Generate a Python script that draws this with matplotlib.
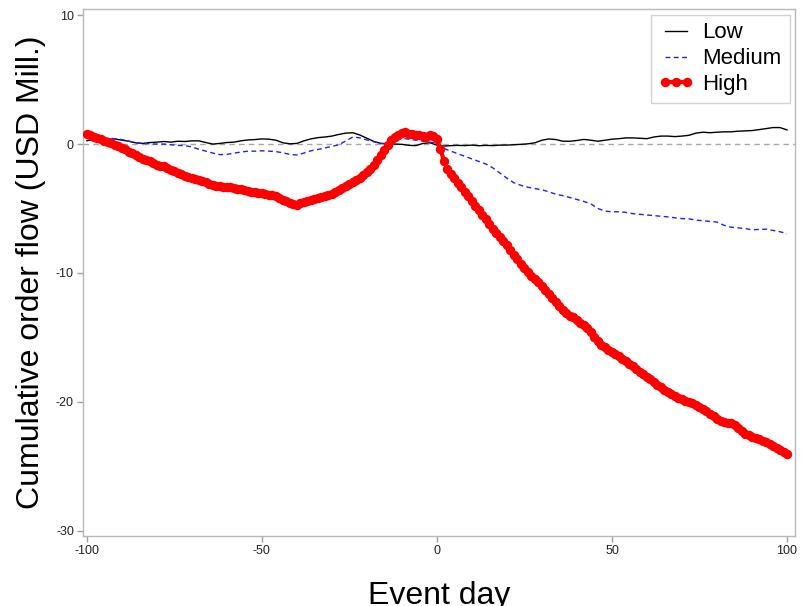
import matplotlib
matplotlib.use("Agg")
import matplotlib.pyplot as plt
import numpy as np

plt.rcParams["font.family"] = ["Liberation Sans", "DejaVu Sans"]
plt.rcParams["axes.unicode_minus"] = False

# Event window, one observation per day for the high group
days_high = list(range(-100, 101))
high = [
    0.78, 0.70, 0.55, 0.45, 0.38, 0.25, 0.15, 0.05, -0.05, -0.18,
    -0.30, -0.42, -0.58, -0.70, -0.82, -0.98, -1.12, -1.22, -1.35, -1.50,
    -1.62, -1.68, -1.72, -1.85, -1.98, -2.10, -2.22, -2.35, -2.45, -2.52,
    -2.60, -2.72, -2.80, -2.88, -2.98, -3.10, -3.18, -3.22, -3.28, -3.32,
    -3.30, -3.35, -3.42, -3.48, -3.50, -3.55, -3.62, -3.70, -3.75, -3.78,
    -3.80, -3.85, -3.92, -3.98, -4.05, -4.15, -4.30, -4.45, -4.60, -4.68,
    -4.72, -4.60, -4.50, -4.42, -4.35, -4.28, -4.20, -4.12, -4.05, -3.98,
    -3.88, -3.72, -3.55, -3.42, -3.28, -3.10, -2.95, -2.80, -2.62, -2.42,
    -2.20, -1.95, -1.62, -1.25, -0.85, -0.45, -0.05, 0.30, 0.55, 0.70,
    0.85, 0.90, 0.80, 0.75, 0.72, 0.70, 0.62, 0.55, 0.68, 0.62,
    0.40, -0.40, -1.30, -1.90, -2.35, -2.65, -3.00, -3.35, -3.70, -4.05,
    -4.40, -4.80, -5.15, -5.50, -5.85, -6.20, -6.55, -6.90, -7.20, -7.50,
    -7.85, -8.25, -8.60, -8.95, -9.30, -9.65, -9.95, -10.20, -10.45, -10.70,
    -11.00, -11.30, -11.60, -11.95, -12.25, -12.55, -12.85, -13.10, -13.30, -13.45,
    -13.65, -13.85, -14.05, -14.30, -14.60, -14.95, -15.30, -15.55, -15.75, -15.95,
    -16.10, -16.25, -16.45, -16.65, -16.85, -17.05, -17.25, -17.45, -17.65, -17.85,
    -18.05, -18.25, -18.45, -18.65, -18.85, -19.05, -19.25, -19.40, -19.55, -19.70,
    -19.80, -19.90, -20.00, -20.10, -20.25, -20.40, -20.55, -20.70, -20.90, -21.10,
    -21.30, -21.45, -21.55, -21.60, -21.65, -21.80, -22.00, -22.25, -22.45, -22.60,
    -22.70, -22.80, -22.90, -23.00, -23.10, -23.25, -23.40, -23.55, -23.70, -23.85,
    -24.05,
]

# Low and medium groups, every second day
days_lines = list(range(-100, 101, 2))
low = [
    0.26, 0.35, 0.38, 0.36, 0.40, 0.30, 0.22, 0.10, 0.05, 0.12,
    0.15, 0.20, 0.15, 0.22, 0.20, 0.25, 0.25, 0.12, 0.00, 0.05,
    0.12, 0.15, 0.25, 0.32, 0.35, 0.40, 0.38, 0.30, 0.10, 0.02,
    0.05, 0.25, 0.40, 0.50, 0.55, 0.62, 0.75, 0.85, 0.88, 0.70,
    0.45, 0.20, 0.05, 0.00, 0.00, -0.02, -0.10, -0.12, 0.05, 0.10,
    -0.08, -0.15, -0.12, -0.10, -0.12, -0.08, -0.13, -0.10, -0.12, -0.08,
    -0.08, -0.05, -0.02, 0.02, 0.10, 0.30, 0.40, 0.35, 0.22, 0.22,
    0.28, 0.36, 0.30, 0.22, 0.30, 0.38, 0.42, 0.48, 0.48, 0.45,
    0.42, 0.55, 0.62, 0.62, 0.58, 0.62, 0.68, 0.85, 0.92, 0.88,
    0.92, 0.95, 0.95, 1.00, 1.02, 1.05, 1.12, 1.20, 1.28, 1.28,
    1.10,
]
medium = [
    0.62, 0.55, 0.48, 0.45, 0.42, 0.35, 0.22, 0.10, 0.05, 0.02,
    0.00, 0.00, -0.05, -0.10, -0.12, -0.22, -0.40, -0.55, -0.70, -0.82,
    -0.80, -0.70, -0.62, -0.55, -0.55, -0.52, -0.55, -0.58, -0.68, -0.80,
    -0.85, -0.70, -0.52, -0.42, -0.30, -0.18, -0.05, 0.25, 0.55, 0.48,
    0.32, 0.18, 0.05, 0.05, 0.25, 0.45, 0.38, 0.30, 0.22, 0.15,
    0.05, -0.35, -0.55, -0.75, -0.95, -1.15, -1.35, -1.55, -1.85, -2.25,
    -2.65, -3.00, -3.20, -3.35, -3.45, -3.55, -3.70, -3.90, -4.00, -4.15,
    -4.30, -4.45, -4.65, -5.00, -5.20, -5.25, -5.25, -5.30, -5.40, -5.45,
    -5.50, -5.55, -5.60, -5.65, -5.72, -5.78, -5.80, -5.90, -5.95, -6.00,
    -6.05, -6.30, -6.45, -6.50, -6.55, -6.65, -6.62, -6.60, -6.70, -6.80,
    -6.95,
]

x_ticks = [-100, -50, 0, 50, 100]
y_ticks = [-30, -20, -10, 0, 10]

fig = plt.figure(figsize=(8.01, 6.06), dpi=100)
ax = fig.add_axes([0.1036, 0.1155, 0.889, 0.8695])

ax.axhline(0, color="#a8a8a8", lw=1.0, ls=(0, (4, 3)), zorder=1)

ax.plot(days_lines, low, color="black", lw=1.0, label="Low", zorder=3)
ax.plot(days_lines, medium, color="#2020ff", lw=1.0, ls=(0, (3.5, 2.5)),
        label="Medium", zorder=3)
ax.plot(days_high, high, color="red", lw=3.0, marker="o", ms=6.8,
        markeredgewidth=0, label="High", zorder=4)

ax.set_xlim(-101.1, 102.3)
ax.set_ylim(-30.4, 10.47)
ax.set_xticks(x_ticks)
ax.set_yticks(y_ticks)

for side in ax.spines.values():
    side.set_color("#b8b8b8")
    side.set_linewidth(1.0)
ax.tick_params(axis="both", direction="out", length=4.5, width=1.0,
               color="#a0a0a0", labelsize=9, labelcolor="#222222", pad=2)

ax.set_xlabel("Event day", fontsize=23, labelpad=17)
ax.set_ylabel("Cumulative order flow (USD Mill.)", fontsize=23, labelpad=7)

leg = ax.legend(loc="upper right", fontsize=16, numpoints=3,
                handlelength=1.58, handletextpad=0.4, labelspacing=0.22,
                borderpad=0.35, borderaxespad=0.25, fancybox=False,
                frameon=True)
leg.get_frame().set_edgecolor("#c8c8c8")
leg.get_frame().set_linewidth(1.0)

fig.savefig("out.png", dpi=100)
